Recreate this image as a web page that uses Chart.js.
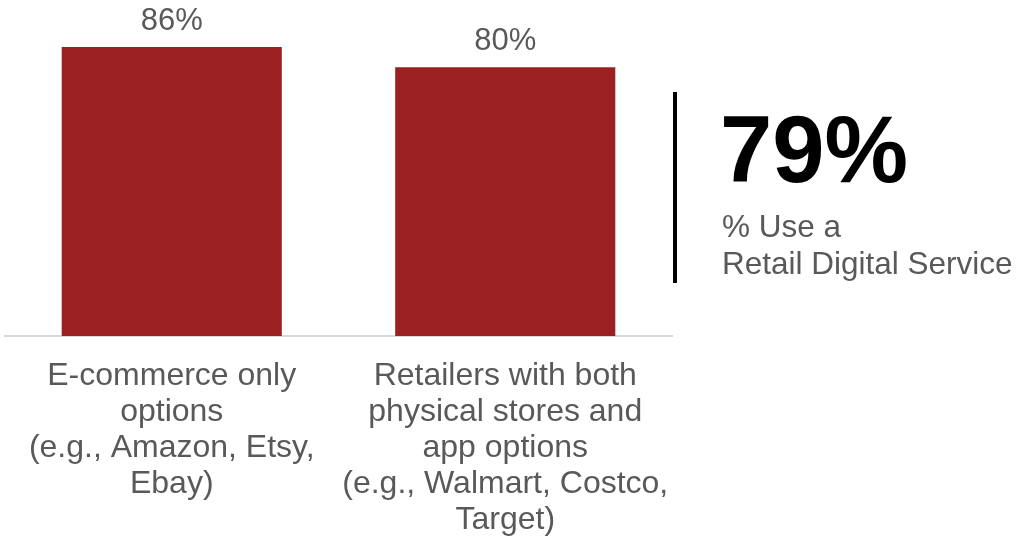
<!DOCTYPE html>
<html>
<head>
<meta charset="utf-8">
<script src="https://cdn.jsdelivr.net/npm/chart.js@4/dist/chart.umd.min.js"></script>
<style>
  body { margin: 0; background: #fff; }
</style>
</head>
<body>
<canvas id="retailChart" width="1017" height="539"></canvas>
<script>
var categories = [
    ["E-commerce only", "options", "(e.g., Amazon, Etsy,", "Ebay)"],
    ["Retailers with both", "physical stores and", "app options", "(e.g., Walmart, Costco,", "Target)"]
];
var usage = [86, 80];
var overallValue = 79;
var overallCaption = ["% Use a", "Retail Digital Service"];

var FONT = "Arial, 'Liberation Sans', sans-serif";
var GREY = "#595959";

// value labels above bars + the big 79% callout on the right
var extras = {
    id: "extras",
    afterDraw: function (chart) {
        var ctx = chart.ctx;
        var meta = chart.getDatasetMeta(0);
        ctx.save();
        ctx.fillStyle = GREY;
        ctx.font = "31px " + FONT;
        ctx.textAlign = "center";
        ctx.textBaseline = "alphabetic";
        meta.data.forEach(function (bar, i) {
            ctx.fillText(usage[i] + "%", bar.x, bar.y - 17);
        });

        var area = chart.chartArea;
        var lx = area.right + 3;
        ctx.strokeStyle = "#000";
        ctx.lineWidth = 4;
        ctx.beginPath();
        ctx.moveTo(lx, 92);
        ctx.lineTo(lx, 283);
        ctx.stroke();

        ctx.textAlign = "left";
        ctx.fillStyle = "#000";
        ctx.font = "bold 94px " + FONT;
        ctx.fillText(overallValue + "%", lx + 45, 182);

        ctx.fillStyle = GREY;
        ctx.font = "31.5px " + FONT;
        overallCaption.forEach(function (line, i) {
            ctx.fillText(line, lx + 47, 237 + i * 37);
        });
        ctx.restore();
    }
};

new Chart(document.getElementById("retailChart").getContext("2d"), {
    type: "bar",
    data: {
        labels: categories,
        datasets: [
            {
                data: usage,
                backgroundColor: "#9B2021",
                categoryPercentage: 0.66,
                barPercentage: 1.0
            }
        ]
    },
    options: {
        responsive: false,
        animation: false,
        layout: { padding: { left: 5, right: 345, top: 0, bottom: -21 } },
        plugins: {
            legend: { display: false },
            tooltip: { enabled: false }
        },
        scales: {
            x: {
                grid: { display: false, drawTicks: false },
                border: { display: true, color: "#D9D9D9", width: 2 },
                ticks: {
                    color: GREY,
                    padding: 22,
                    maxRotation: 0,
                    autoSkip: false,
                    font: { family: FONT, size: 32, lineHeight: 1.125 }
                }
            },
            y: {
                display: false,
                min: 0,
                max: 100
            }
        }
    },
    plugins: [extras]
});
</script>
</body>
</html>
